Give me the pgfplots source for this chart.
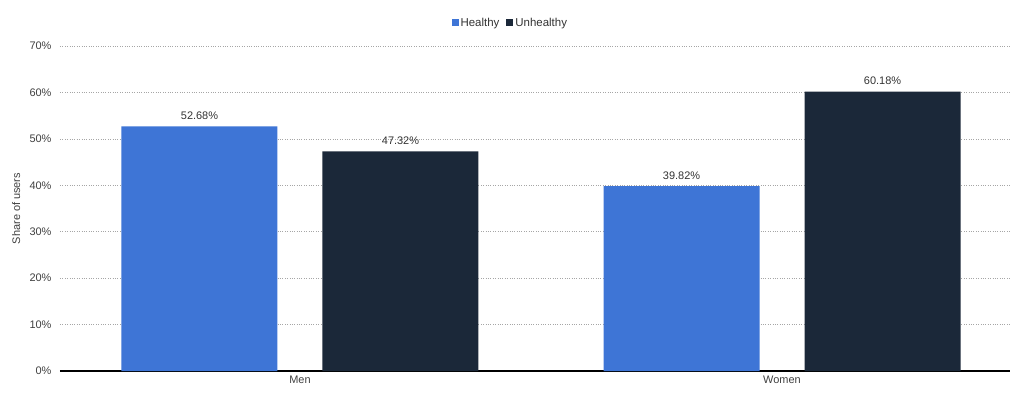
\documentclass[border=0pt]{standalone}
\usepackage{pgfplots}
\pgfplotsset{compat=1.18}
\usepackage{fontspec}
\setmainfont{Liberation Sans}
\definecolor{cblue}{HTML}{3E75D6}
\definecolor{cdark}{HTML}{1B2839}
\begin{document}
\begin{tikzpicture}
\path[use as bounding box] (-60bp,-23bp) rectangle (951bp,371bp);
\begin{axis}[
  scale only axis,
  width=950bp, height=325bp,
  xmin=-0.4979, xmax=1.473,
  ymin=0, ymax=70,
  ytick={0,10,...,70},
  yticklabel={\pgfmathprintnumber{\tick}\%},
  /pgf/number format/assume math mode=true,
  xtick={0,1}, xticklabels={Men,Women},
  axis x line*=bottom, axis y line*=left,
  y axis line style={draw=none},
  x axis line style={black, line width=1.2pt, -},
  major tick length=0pt,
  ymajorgrids,
  grid style={gray!70, dotted, line width=0.6pt},
  tick label style={font=\fontsize{11}{13}\selectfont, text=black!75},
  yticklabel style={xshift=-5bp},
  xticklabel style={yshift=-1bp},
  ylabel={Share of users},
  ylabel style={font=\fontsize{11}{13}\selectfont, text=black!75, at={(axis description cs:-0.046,0.5)}, anchor=center},
  ybar, bar width=156bp,
  nodes near coords={\pgfmathprintnumber[fixed,fixed zerofill,precision=2]{\pgfplotspointmeta}\%},
  nodes near coords style={font=\fontsize{11}{13}\selectfont, text=black!80, yshift=3bp},
  legend style={at={(0.474,1)}, anchor=south, yshift=14bp, draw=none, fill=none,
    legend columns=2, font=\fontsize{11.5}{13}\selectfont, text=black!80,
    /tikz/every even column/.append style={column sep=5bp}},
  legend image code/.code={\fill[#1] (0bp,-3.5bp) rectangle (7bp,3.5bp);},
  clip=false,
]
\addplot[fill=cblue, draw=none, bar shift=-100.5bp] coordinates {(0,52.68) (1,39.82)};
\addplot[fill=cdark, draw=none, bar shift=100.5bp] coordinates {(0,47.32) (1,60.18)};
\legend{Healthy, Unhealthy}
\end{axis}
\end{tikzpicture}
\end{document}
